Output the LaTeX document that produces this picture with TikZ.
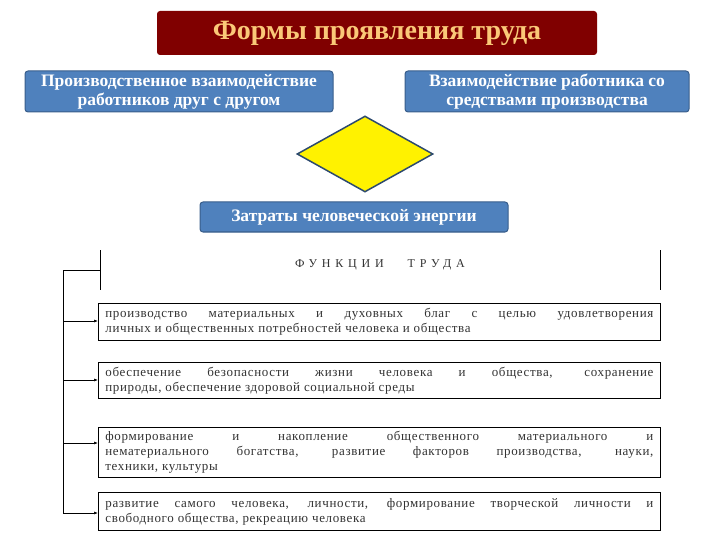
\documentclass[tikz,border=0pt]{standalone}
\usepackage{fontspec}
\setmainfont{Liberation Serif}
\usetikzlibrary{shapes.geometric,arrows.meta}
\definecolor{dred}{RGB}{128,0,0}
\definecolor{gold}{RGB}{250,200,120}
\definecolor{sblue}{RGB}{79,129,189}
\definecolor{sbord}{RGB}{56,93,138}
\definecolor{gtxt}{RGB}{50,50,50}
\begin{document}
\begin{tikzpicture}[x=1pt,y=-1pt,
  bluebox/.style={draw=sbord,fill=sblue,rounded corners=3pt,text=white,font=\bfseries\fontsize{17.5}{19}\selectfont,align=center,inner sep=1pt,line width=1pt},
  fbox/.style={draw=black,line width=0.8pt,text=gtxt,font=\fontsize{13}{15}\selectfont\addfontfeature{LetterSpace=5},inner sep=4pt,minimum width=562pt,anchor=north west,align=justify,text width=548pt},
  arr/.style={-{Latex[length=4pt,width=3pt]},line width=0.6pt}]
\useasboundingbox (0,0) rectangle (720,540);
\node[draw=none,fill=dred,rounded corners=3pt,minimum width=440pt,minimum height=44pt,text=gold,font=\bfseries\fontsize{28}{30}\selectfont] (title) at (377,33) {Формы проявления труда};
\node[bluebox,minimum width=308pt,minimum height=41pt] (l) at (179,91.5) {Производственное взаимодействие\\работников друг с другом};
\node[bluebox,minimum width=284pt,minimum height=41pt] (r) at (547,91.5) {Взаимодействие работника со\\средствами производства};
\node[diamond,draw=sbord!80!black,line width=1.5pt,fill=yellow,minimum width=136pt,minimum height=76pt,inner sep=0pt] (d) at (365,154) {};
\node[bluebox,minimum width=308pt,minimum height=30pt] (b) at (354,217) {Затраты человеческой энергии};
\draw[line width=0.8pt] (100,250) -- (100,290);
\draw[line width=0.8pt] (660,250) -- (660,290);
\node[text=gtxt,font=\fontsize{12}{13}\selectfont\addfontfeature{LetterSpace=40}] (ft) at (380,265) {ФУНКЦИИ\qquad ТРУДА};
\coordinate (top) at (63,270);
\coordinate (hd) at (100,270);
\draw[line width=0.8pt] (hd) -- (top) -- (63,513);
\node[fbox,minimum height=37pt] (f1) at (98,303) {производство материальных и духовных благ с целью удовлетворения\linebreak личных и общественных потребностей человека и общества};
\node[fbox,minimum height=36pt] (f2) at (98,362) {обеспечение безопасности жизни человека и общества, сохранение\linebreak природы, обеспечение здоровой социальной среды};
\node[fbox,minimum height=48pt] (f3) at (98,427) {формирование и накопление общественного материального и\linebreak нематериального богатства, развитие факторов производства, науки,\linebreak техники, культуры};
\node[fbox,minimum height=38pt] (f4) at (98,492) {развитие самого человека, личности, формирование творческой личности и\linebreak свободного общества, рекреацию человека};
\foreach \n/\yy in {f1/321,f2/380,f3/443,f4/513}{
  \draw[arr] (63,\yy) -- (\n.west |- 0,\yy);
}
\end{tikzpicture}
\end{document}
